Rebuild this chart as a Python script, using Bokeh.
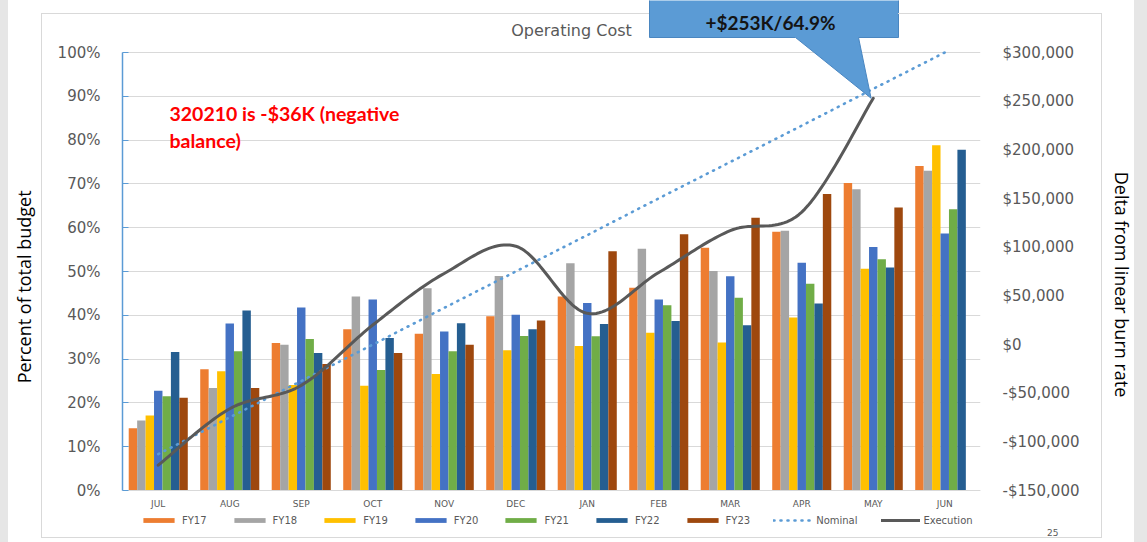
import math
from bokeh.plotting import figure
from bokeh.models import (FactorRange, Range1d, LinearAxis, FixedTicker, PrintfTickFormatter,
                          CustomJSTickFormatter, Legend, LegendItem, Title,
                          ColumnDataSource, GlobalInlineStyleSheet)
from bokeh.transform import dodge
from bokeh.core.properties import value
from bokeh.embed import file_html
from bokeh.resources import INLINE

NAN = float("nan")

# ---------------- data ----------------
months = ["JUL", "AUG", "SEP", "OCT", "NOV", "DEC", "JAN", "FEB", "MAR", "APR", "MAY", "JUN"]
series_names = ["FY17", "FY18", "FY19", "FY20", "FY21", "FY22", "FY23"]
fy17 = [14.2, 27.7, 33.7, 36.8, 35.8, 39.8, 44.3, 46.3, 55.4, 59.1, 70.2, 74.1]
fy18 = [16.0, 23.4, 33.3, 44.3, 46.2, 49.0, 51.9, 55.2, 50.1, 59.3, 68.8, 73.0]
fy19 = [17.1, 27.2, 24.1, 23.9, 26.6, 32.0, 33.0, 36.0, 33.8, 39.5, 50.6, 78.8]
fy20 = [22.8, 38.1, 41.8, 43.6, 36.3, 40.1, 42.8, 43.6, 48.9, 52.0, 55.6, 58.7]
fy21 = [21.5, 31.8, 34.6, 27.5, 31.8, 35.3, 35.2, 42.3, 44.0, 47.2, 52.8, 64.2]
fy22 = [31.6, 41.1, 31.4, 34.8, 38.2, 36.8, 38.0, 38.7, 37.7, 42.7, 50.9, 77.8]
fy23 = [21.2, 23.4, 28.9, 31.4, 33.3, 38.8, 54.6, 58.5, 62.3, 67.7, 64.6, NAN]
nominal = [8.3, 16.7, 25.0, 33.3, 41.7, 50.0, 58.3, 66.7, 75.0, 83.3, 91.7, 100.0]
exec_months = ["JUL", "AUG", "SEP", "OCT", "NOV", "DEC", "JAN", "FEB", "MAR", "APR", "MAY"]
execution = [-124000, -66000, -42000, 20000, 73000, 101000, 32000, 74000, 117000, 136000, 253000]
left_ticks = [0, 10, 20, 30, 40, 50, 60, 70, 80, 90, 100]
right_ticks = [-150000, -100000, -50000, 0, 50000, 100000, 150000, 200000, 250000, 300000]

colors = ["#ED7D31", "#A5A5A5", "#FFC000", "#4472C4", "#70AD47", "#255E91", "#9E480E"]

# ---------------- geometry (page pixels) ----------------
FIG_W, FIG_H = 1147, 542
F_L, F_R, F_T, F_B = 122, 980, 0, 526      # plot frame on the page
AX_BOT, AX_TOP = 490, 52                     # page y of 0% and of 100%


def sx(px):
    return (px - F_L) / (F_R - F_L) * len(months)


def syl(py):
    return (AX_BOT - py) / (AX_BOT - AX_TOP) * 100.0


def syr(py):
    return (AX_BOT - py) / (AX_BOT - AX_TOP) * 450000.0 - 150000.0


CSS = (
    "html,body{margin:0;padding:0;background:#ffffff;}"
    "body::before{content:'';position:fixed;left:0;top:0;width:1147px;height:542px;"
    "pointer-events:none;z-index:10;background:"
    "linear-gradient(#d9d9d9,#d9d9d9) 41px 13px/608px 1px no-repeat,"
    "linear-gradient(#d9d9d9,#d9d9d9) 898px 13px/204px 1px no-repeat,"
    "linear-gradient(#d9d9d9,#d9d9d9) 41px 13px/1px 525px no-repeat,"
    "linear-gradient(#d9d9d9,#d9d9d9) 1101px 13px/1px 525px no-repeat,"
    "linear-gradient(#d9d9d9,#d9d9d9) 41px 537px/1061px 1px no-repeat,"
    "linear-gradient(#e6e6e6,#e6e6e6) 0px 0px/8px 542px no-repeat,"
    "linear-gradient(#e6e6e6,#e6e6e6) 1134px 0px/13px 542px no-repeat;}"
)

p = figure(width=FIG_W, height=FIG_H,
           x_range=FactorRange(*months, range_padding=0),
           y_range=Range1d(syl(F_B), syl(F_T)),
           output_backend="svg", toolbar_location=None, title=None,
           min_border_left=F_L, min_border_right=FIG_W - F_R,
           min_border_top=F_T, min_border_bottom=FIG_H - F_B)
p.extra_y_ranges = {"right": Range1d(syr(F_B), syr(F_T))}
p.outline_line_color = None
p.background_fill_color = "white"
p.border_fill_color = "white"
p.stylesheets = [GlobalInlineStyleSheet(css=CSS)]

TICK_FONT = "DejaVu Sans"
GRAY = "#595959"
NB = "\u00a0"

# left axis
lt = FixedTicker(ticks=left_ticks)
lax = p.left[0]
lax.ticker = lt
lax.formatter = PrintfTickFormatter(format="%d%%")
lax.bounds = (0, 100)
lax.axis_line_color = "#5B9BD5"
lax.axis_line_width = 1.5
lax.major_tick_line_color = "#5B9BD5"
lax.major_tick_in = 6
lax.major_tick_out = 0
lax.minor_tick_line_color = None
lax.major_label_standoff = 22
lax.major_label_text_font = TICK_FONT
lax.major_label_text_font_size = "15px"
lax.major_label_text_color = GRAY

p.ygrid.ticker = lt
p.ygrid.grid_line_color = "#D9D9D9"
p.xgrid.visible = False

# left axis title (label-only axis, outside the tick labels)
c_left = syl(287)
ltitle = LinearAxis(ticker=FixedTicker(ticks=[]), bounds=(c_left - 5, c_left + 5),
                    axis_label="Percent of total budget" + NB * 10, axis_label_standoff=19,
                    axis_label_text_font="Open Sans", axis_label_text_font_size="18px",
                    axis_label_text_font_style="normal", axis_label_text_color="#000000",
                    axis_line_color=None, major_tick_line_color=None,
                    minor_tick_line_color=None, major_tick_out=0, major_tick_in=0,
                    major_label_standoff=0)
p.add_layout(ltitle, "left")

# bottom (month) axis, pinned at the 0% line
bax = p.below[0]
bax.fixed_location = 0
bax.axis_line_color = "#D9D9D9"
bax.major_tick_line_color = None
bax.minor_tick_line_color = None
bax.major_tick_out = 0
bax.major_tick_in = 0
bax.major_label_standoff = 8
bax.major_label_text_font = TICK_FONT
bax.major_label_text_font_size = "9px"
bax.major_label_text_color = GRAY

# right axis
rax = LinearAxis(y_range_name="right", ticker=FixedTicker(ticks=right_ticks),
                 formatter=CustomJSTickFormatter(code="""
                     var s = Math.abs(tick).toFixed(0).replace(/\\B(?=(\\d{3})+(?!\\d))/g, ",");
                     return (tick < 0 ? "-" : "") + "$" + s;"""),
                 bounds=(-150000, 300000))
rax.axis_line_color = None
rax.major_tick_line_color = None
rax.minor_tick_line_color = None
rax.major_tick_out = 0
rax.major_tick_in = 0
rax.major_label_standoff = 22
rax.major_label_text_font = TICK_FONT
rax.major_label_text_font_size = "15px"
rax.major_label_text_color = GRAY
p.add_layout(rax, "right")

c_right = syr(284)
rtitle = LinearAxis(y_range_name="right", ticker=FixedTicker(ticks=[]),
                    bounds=(c_right - 5000, c_right + 5000),
                    axis_label=NB * 9 + "Delta from linear burn rate", axis_label_standoff=27,
                    axis_label_text_font="Open Sans", axis_label_text_font_size="18px",
                    axis_label_text_font_style="normal", axis_label_text_color="#000000",
                    axis_line_color=None, major_tick_line_color=None,
                    minor_tick_line_color=None, major_tick_out=0, major_tick_in=0,
                    major_label_standoff=0)
p.add_layout(rtitle, "right")

# bars
src = ColumnDataSource(dict(month=months, FY17=fy17, FY18=fy18, FY19=fy19, FY20=fy20,
                            FY21=fy21, FY22=fy22, FY23=fy23))
bw = 0.118
items = []
for i, name in enumerate(series_names):
    r = p.vbar(x=dodge("month", (i - 3) * bw, range=p.x_range), top=name, bottom=0,
               width=bw, source=src, fill_color=colors[i], line_color=None)
    items.append(LegendItem(label=name, renderers=[r]))

# nominal line
rn = p.line(x=months, y=nominal, line_color="#5B9BD5", line_width=2.6,
            line_dash="1 6", line_cap="round")
items.append(LegendItem(label="Nominal", renderers=[rn]))


# execution smooth line (Excel-style Bezier smoothing through the points)
def smooth(xs, ys, n=24):
    pts = list(zip(xs, ys))
    ox, oy = [xs[0]], [ys[0]]
    for i in range(len(pts) - 1):
        p0 = pts[i - 1] if i > 0 else pts[i]
        p1 = pts[i]
        p2 = pts[i + 1]
        p3 = pts[i + 2] if i + 2 < len(pts) else pts[i + 1]
        c1 = (p1[0] + (p2[0] - p0[0]) / 6.0, p1[1] + (p2[1] - p0[1]) / 6.0)
        c2 = (p2[0] - (p3[0] - p1[0]) / 6.0, p2[1] - (p3[1] - p1[1]) / 6.0)
        for k in range(1, n + 1):
            t = k / n
            a = (1 - t) ** 3
            b = 3 * (1 - t) ** 2 * t
            c = 3 * (1 - t) * t ** 2
            d = t ** 3
            ox.append(a * p1[0] + b * c1[0] + c * c2[0] + d * p2[0])
            oy.append(a * p1[1] + b * c1[1] + c * c2[1] + d * p2[1])
    return ox, oy


ex_x = [months.index(m) + 0.5 for m in exec_months]
sm_x, sm_y = smooth(ex_x, execution)
re = p.line(x=sm_x, y=sm_y, y_range_name="right", line_color="#595959", line_width=3,
            line_cap="round", line_join="round")
items.append(LegendItem(label="Execution", renderers=[re]))

# callout
tip_x, tip_y = ex_x[-1] - 0.03, execution[-1]
p.patch(x=[sx(649), sx(898), sx(898), sx(858), tip_x, sx(795), sx(649)],
        y=[syr(-20), syr(-20), syr(37), syr(37), tip_y, syr(37), syr(37)],
        y_range_name="right", fill_color="#5B9BD5", line_color="#4A86C0", line_width=1)
p.text(x=[sx(770)], y=[syr(22)], text=["+$253K/64.9%"], y_range_name="right",
       text_font=value("Lato"), text_font_style="bold", text_font_size="19px",
       text_color="#141414", text_align="center", text_baseline="middle")

# title
p.text(x=[sx(571)], y=[syl(30)], text=["Operating Cost"], text_font=value(TICK_FONT),
       text_font_size="16px", text_color=GRAY, text_align="center", text_baseline="middle")

# red note
p.text(x=[sx(169), sx(169)], y=[syl(113), syl(140)],
       text=["320210  is -$36K (negative", "balance)"],
       text_font=value("Lato"), text_font_style="bold", text_font_size="19.5px",
       text_color="#FF0000", text_align="left", text_baseline="middle")

# legend (inside the frame, under the month labels)
legend = Legend(items=items, location=(139 - F_L, 0), orientation="horizontal",
                glyph_width=39, glyph_height=6, label_standoff=4, spacing=23,
                padding=0, margin=0, label_height=12,
                label_text_font=TICK_FONT, label_text_font_size="10px",
                label_text_color=GRAY, background_fill_alpha=0, border_line_color=None)
p.add_layout(legend)

# slide page number
p.add_layout(Title(text="25", align="right", offset=-78, standoff=0,
                   text_font=TICK_FONT, text_font_size="9px", text_font_style="normal",
                   text_color=GRAY), "below")

open("out.html", "w").write(file_html(p, INLINE))
